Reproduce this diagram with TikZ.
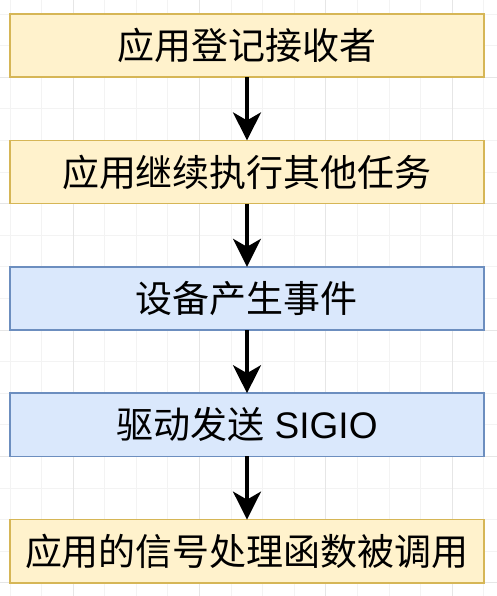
\documentclass[tikz,border=0pt]{standalone}
\usepackage{fontspec}
\setmainfont{Liberation Sans}
\newfontfamily\cjk{Noto Sans CJK SC}
\usepackage{xcolor}
\usetikzlibrary{positioning,arrows.meta}
\definecolor{appfill}{HTML}{FFF2CC}
\definecolor{appline}{HTML}{D6B656}
\definecolor{devfill}{HTML}{DAE8FC}
\definecolor{devline}{HTML}{6C8EBF}
\definecolor{gridminor}{HTML}{F3F3F3}
\definecolor{gridmajor}{HTML}{E6E6E6}
\tikzset{
    stage/.style={draw, line width=1.3pt, minimum width=355.5pt, minimum height=47.4pt, outer sep=0pt, inner sep=0pt, font=\fontsize{27.75}{33}\selectfont},
    appstage/.style={stage, fill=appfill, draw=appline},
    devstage/.style={stage, fill=devfill, draw=devline},
    flow/.style={line width=2.4pt, -{Stealth[length=21pt,width=21pt,inset=6pt]}}
}

\begin{document}
\begin{tikzpicture}[x=23.7pt, y=-23.7pt, node distance=47.4pt]
    \useasboundingbox (-0.3165,-0.443) rectangle (15.411,18.418);

    % Background grid
    \foreach \x in {0,...,15}
        \draw[gridminor, line width=0.75pt] (\x,-0.443) -- (\x,18.418);
    \foreach \y in {0,...,18}
        \draw[gridminor, line width=0.75pt] (-0.3165,\y) -- (15.411,\y);
    \foreach \x in {2,6,10,14}
        \draw[gridmajor, line width=0.75pt] (\x,-0.443) -- (\x,18.418);
    \foreach \y in {2,6,10,14,18}
        \draw[gridmajor, line width=0.75pt] (-0.3165,\y) -- (15.411,\y);

    % Stages
    \node[appstage] (reg) at (7.5,1) {\cjk 应用登记接收者};
    \node[appstage, below=of reg] (cont) {\cjk 应用继续执行其他任务};
    \node[devstage, below=of cont] (evt) {\cjk 设备产生事件};
    \node[devstage, below=of evt] (sig) {{\cjk 驱动发送} SIGIO};
    \node[appstage, below=of sig] (hdl) {\cjk 应用的信号处理函数被调用};

    % Flow
    \foreach \a/\b in {reg/cont, cont/evt, evt/sig, sig/hdl}
        \draw[flow] (\a) -- (\b);
\end{tikzpicture}
\end{document}
